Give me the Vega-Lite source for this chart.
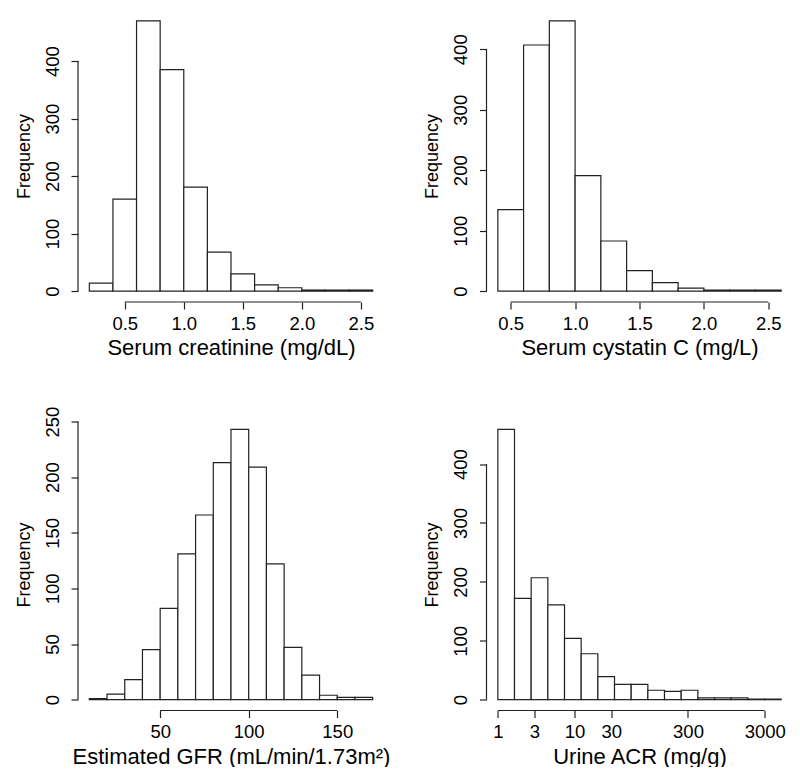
{
  "$schema": "https://vega.github.io/schema/vega-lite/v6.json",
  "padding": {"left": 14, "top": 10, "right": 0, "bottom": 0},
  "background": "white",
  "datasets": {
    "creat": [
      {"lo": 0.2, "hi": 0.4, "n": 14},
      {"lo": 0.4, "hi": 0.6, "n": 160},
      {"lo": 0.6, "hi": 0.8, "n": 470},
      {"lo": 0.8, "hi": 1.0, "n": 385},
      {"lo": 1.0, "hi": 1.2, "n": 181},
      {"lo": 1.2, "hi": 1.4, "n": 68},
      {"lo": 1.4, "hi": 1.6, "n": 30},
      {"lo": 1.6, "hi": 1.8, "n": 11},
      {"lo": 1.8, "hi": 2.0, "n": 6},
      {"lo": 2.0, "hi": 2.2, "n": 2},
      {"lo": 2.2, "hi": 2.4, "n": 2},
      {"lo": 2.4, "hi": 2.6, "n": 2}
    ],
    "cys": [
      {"lo": 0.4, "hi": 0.6, "n": 135},
      {"lo": 0.6, "hi": 0.8, "n": 407},
      {"lo": 0.8, "hi": 1.0, "n": 447},
      {"lo": 1.0, "hi": 1.2, "n": 191},
      {"lo": 1.2, "hi": 1.4, "n": 83},
      {"lo": 1.4, "hi": 1.6, "n": 34},
      {"lo": 1.6, "hi": 1.8, "n": 14},
      {"lo": 1.8, "hi": 2.0, "n": 5},
      {"lo": 2.0, "hi": 2.2, "n": 2},
      {"lo": 2.2, "hi": 2.4, "n": 2},
      {"lo": 2.4, "hi": 2.6, "n": 2}
    ],
    "egfr": [
      {"lo": 10, "hi": 20, "n": 1},
      {"lo": 20, "hi": 30, "n": 5},
      {"lo": 30, "hi": 40, "n": 18},
      {"lo": 40, "hi": 50, "n": 45},
      {"lo": 50, "hi": 60, "n": 82},
      {"lo": 60, "hi": 70, "n": 131},
      {"lo": 70, "hi": 80, "n": 166},
      {"lo": 80, "hi": 90, "n": 213},
      {"lo": 90, "hi": 100, "n": 243},
      {"lo": 100, "hi": 110, "n": 209},
      {"lo": 110, "hi": 120, "n": 122},
      {"lo": 120, "hi": 130, "n": 47},
      {"lo": 130, "hi": 140, "n": 22},
      {"lo": 140, "hi": 150, "n": 4},
      {"lo": 150, "hi": 160, "n": 2},
      {"lo": 160, "hi": 170, "n": 2}
    ],
    "acr": [
      {"lo": 1, "hi": 1.6487, "n": 459},
      {"lo": 1.6487, "hi": 2.7183, "n": 172},
      {"lo": 2.7183, "hi": 4.4817, "n": 207},
      {"lo": 4.4817, "hi": 7.3891, "n": 161},
      {"lo": 7.3891, "hi": 12.1825, "n": 104},
      {"lo": 12.1825, "hi": 20.0855, "n": 78},
      {"lo": 20.0855, "hi": 33.1155, "n": 39},
      {"lo": 33.1155, "hi": 54.5982, "n": 26},
      {"lo": 54.5982, "hi": 90.0171, "n": 26},
      {"lo": 90.0171, "hi": 148.4132, "n": 16},
      {"lo": 148.4132, "hi": 244.6919, "n": 14},
      {"lo": 244.6919, "hi": 403.4288, "n": 16},
      {"lo": 403.4288, "hi": 665.1416, "n": 3},
      {"lo": 665.1416, "hi": 1096.633, "n": 3},
      {"lo": 1096.633, "hi": 1808.042, "n": 3},
      {"lo": 1808.042, "hi": 2980.958, "n": 1},
      {"lo": 2980.958, "hi": 4914.769, "n": 1}
    ]
  },
  "columns": 2,
  "bounds": "flush",
  "spacing": {"row": 116.5, "column": 102.5},
  "concat": [
    {
      "width": 306, "height": 292,
      "layer": [
        {
          "data": {"name": "creat"},
          "mark": {"type": "rect", "fill": "white", "stroke": "#222", "strokeWidth": 1.2},
          "encoding": {
            "x": {"field": "lo", "type": "quantitative", "scale": {"domain": [0.104, 2.696], "nice": false, "zero": false},
                  "axis": {"title": "Serum creatinine (mg/dL)", "values": [0.5, 1, 1.5, 2, 2.5], "format": ".1f"}},
            "x2": {"field": "hi"},
            "y": {"field": "n", "type": "quantitative", "scale": {"domain": [-18.8, 488.8], "nice": false, "zero": false},
                  "axis": {"title": "Frequency", "values": [0, 100, 200, 300, 400]}},
            "y2": {"datum": 0}
          }
        },
        {
          "data": {"values": [{}]},
          "mark": {"type": "rule", "color": "#222", "strokeWidth": 1.2},
          "encoding": {"x": {"datum": 0.5}, "x2": {"datum": 2.5}, "y": {"datum": -18.8}}
        },
        {
          "data": {"values": [{}]},
          "mark": {"type": "rule", "color": "#222", "strokeWidth": 1.2},
          "encoding": {"x": {"datum": 0.104}, "y": {"datum": 0}, "y2": {"datum": 400}}
        }
      ]
    },
    {
      "width": 306, "height": 292,
      "layer": [
        {
          "data": {"name": "cys"},
          "mark": {"type": "rect", "fill": "white", "stroke": "#222", "strokeWidth": 1.2},
          "encoding": {
            "x": {"field": "lo", "type": "quantitative", "scale": {"domain": [0.312, 2.688], "nice": false, "zero": false},
                  "axis": {"title": "Serum cystatin C (mg/L)", "values": [0.5, 1, 1.5, 2, 2.5], "format": ".1f"}},
            "x2": {"field": "hi"},
            "y": {"field": "n", "type": "quantitative", "scale": {"domain": [-17.88, 464.88], "nice": false, "zero": false},
                  "axis": {"title": "Frequency", "values": [0, 100, 200, 300, 400]}},
            "y2": {"datum": 0}
          }
        },
        {
          "data": {"values": [{}]},
          "mark": {"type": "rule", "color": "#222", "strokeWidth": 1.2},
          "encoding": {"x": {"datum": 0.5}, "x2": {"datum": 2.5}, "y": {"datum": -17.88}}
        },
        {
          "data": {"values": [{}]},
          "mark": {"type": "rule", "color": "#222", "strokeWidth": 1.2},
          "encoding": {"x": {"datum": 0.312}, "y": {"datum": 0}, "y2": {"datum": 400}}
        }
      ]
    },
    {
      "width": 306, "height": 292,
      "layer": [
        {
          "data": {"name": "egfr"},
          "mark": {"type": "rect", "fill": "white", "stroke": "#222", "strokeWidth": 1.2},
          "encoding": {
            "x": {"field": "lo", "type": "quantitative", "scale": {"domain": [3.6, 176.4], "nice": false, "zero": false},
                  "axis": {"title": "Estimated GFR (mL/min/1.73m²)", "values": [50, 100, 150]}},
            "x2": {"field": "hi"},
            "y": {"field": "n", "type": "quantitative", "scale": {"domain": [-9.72, 252.72], "nice": false, "zero": false},
                  "axis": {"title": "Frequency", "values": [0, 50, 100, 150, 200, 250]}},
            "y2": {"datum": 0}
          }
        },
        {
          "data": {"values": [{}]},
          "mark": {"type": "rule", "color": "#222", "strokeWidth": 1.2},
          "encoding": {"x": {"datum": 50}, "x2": {"datum": 150}, "y": {"datum": -9.72}}
        },
        {
          "data": {"values": [{}]},
          "mark": {"type": "rule", "color": "#222", "strokeWidth": 1.2},
          "encoding": {"x": {"datum": 3.6}, "y": {"datum": 0}, "y2": {"datum": 250}}
        }
      ]
    },
    {
      "width": 306, "height": 292,
      "layer": [
        {
          "data": {"name": "acr"},
          "mark": {"type": "rect", "fill": "white", "stroke": "#222", "strokeWidth": 1.2},
          "encoding": {
            "x": {"field": "lo", "type": "quantitative", "scale": {"type": "log", "domain": [0.7118, 6896.6], "nice": false, "zero": false},
                  "axis": {"title": "Urine ACR (mg/g)", "values": [1, 3, 10, 30, 300, 3000], "format": "d"}},
            "x2": {"field": "hi"},
            "y": {"field": "n", "type": "quantitative", "scale": {"domain": [-18.36, 477.36], "nice": false, "zero": false},
                  "axis": {"title": "Frequency", "values": [0, 100, 200, 300, 400]}},
            "y2": {"datum": 0}
          }
        },
        {
          "data": {"values": [{}]},
          "mark": {"type": "rule", "color": "#222", "strokeWidth": 1.2},
          "encoding": {"x": {"datum": 1}, "x2": {"datum": 3000}, "y": {"datum": -18.36}}
        },
        {
          "data": {"values": [{}]},
          "mark": {"type": "rule", "color": "#222", "strokeWidth": 1.2},
          "encoding": {"x": {"datum": 0.7118}, "y": {"datum": 0}, "y2": {"datum": 400}}
        }
      ]
    }
  ],
  "config": {
    "view": {"stroke": null},
    "font": "Liberation Sans",
    "axis": {
      "domain": false, "grid": false, "ticks": true, "tickSize": 7, "tickColor": "#222", "tickWidth": 1.2,
      "labelFont": "Liberation Sans", "labelFontSize": 18.5, "labelColor": "#000", "labelPadding": 5,
      "labelOverlap": false, "labelFlush": false,
      "titleFont": "Liberation Sans", "titleFontWeight": "normal", "titleColor": "#000"
    },
    "axisX": {"titleFontSize": 22, "titlePadding": 5},
    "axisY": {"titleFontSize": 18, "titlePadding": 10, "labelAngle": 270, "labelAlign": "center", "labelBaseline": "bottom", "labelPadding": 9}
  }
}
